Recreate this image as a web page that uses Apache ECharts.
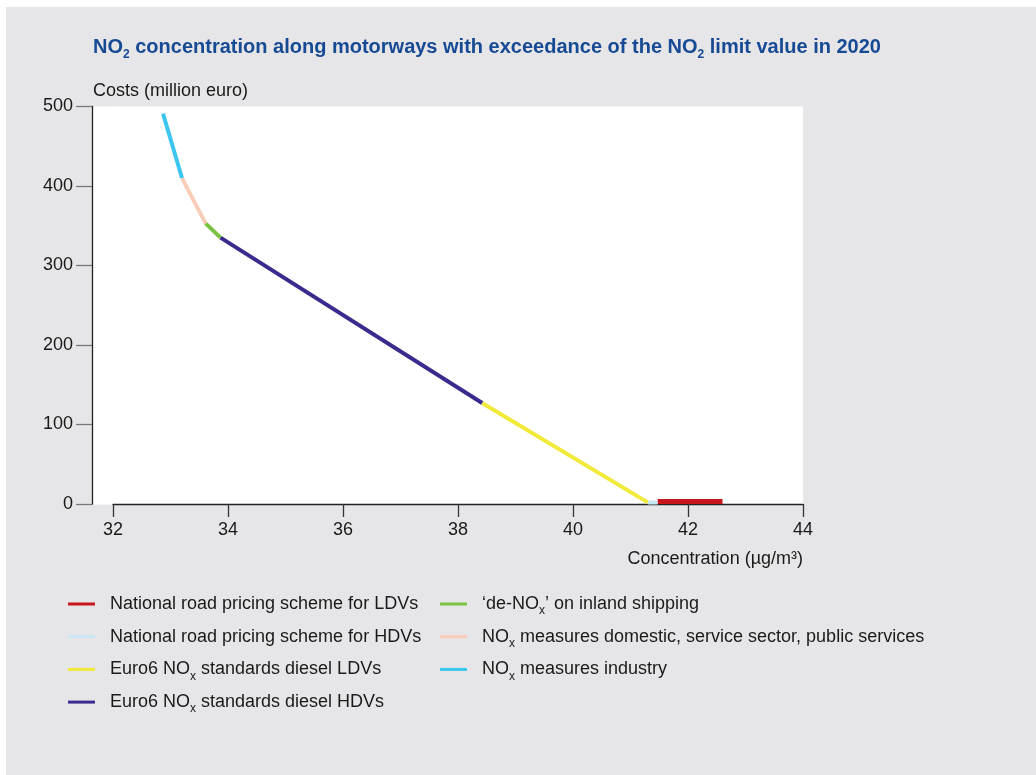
<!DOCTYPE html>
<html>
<head>
<meta charset="utf-8">
<script src="https://cdn.jsdelivr.net/npm/echarts@6/dist/echarts.min.js"></script>
<style>
html,body{margin:0;padding:0;background:#ffffff;width:1036px;height:775px;overflow:hidden;}
#bg{position:absolute;left:6px;top:7px;right:0;bottom:0;background:#e6e6e8;}
#chart{position:absolute;left:0;top:0;width:1036px;height:775px;}
</style>
</head>
<body>
<div id="bg"></div>
<div id="chart"></div>
<script>
// ---- data ----
const seriesNames = [
  'National road pricing scheme for LDVs',
  'National road pricing scheme for HDVs',
  'Euro6 NOx standards diesel LDVs',
  'Euro6 NOx standards diesel HDVs',
  '\u2018de-NOx\u2019 on inland shipping',
  'NOx measures domestic, service sector, public services',
  'NOx measures industry'
];
const seriesColors = ['#c8161e', '#c9e6f4', '#f2ea3a', '#3b2a8e', '#7cc242', '#f9cdb9', '#3cc6ef'];
// concentration (µg/m3) at start and end of each measure segment
const segConc = [
  [41.47, 42.60],
  [41.30, 41.47],
  [38.42, 41.30],
  [33.87, 38.42],
  [33.61, 33.87],
  [33.20, 33.61],
  [32.87, 33.20]
];
// cumulative costs (million euro) at start and end of each segment
const segCost = [
  [3, 3],
  [2, 2],
  [127, 2],
  [335, 127],
  [353, 335],
  [410, 353],
  [491, 410]
];
const xTicks = [32, 34, 36, 38, 40, 42, 44];
const yTicks = [0, 100, 200, 300, 400, 500];

const FONT = '"Liberation Sans", Arial, sans-serif';
const TXT = '#1a1a1a';
const subStyle = {fontSize: 12, lineHeight: 12, verticalAlign: 'bottom', fontFamily: FONT, color: TXT};

function fmtSub(s) { return s.replace(/NOx/g, 'NO{sub|x}'); }

const series = seriesNames.map((name, i) => ({
  name: name,
  type: 'line',
  showSymbol: false,
  symbol: 'none',
  animation: false,
  color: seriesColors[i],
  lineStyle: {color: seriesColors[i], width: i === 0 ? 5 : 4, cap: 'butt'},
  data: segConc[i].map((c, k) => [c, segCost[i][k]]),
  z: 3
}));

const legendBase = {
  orient: 'vertical',
  icon: 'rect',
  itemWidth: 27,
  itemHeight: 3,
  itemGap: 6.7,
  padding: 0,
  selectedMode: false,
  formatter: fmtSub,
  textStyle: {
    fontFamily: FONT, fontSize: 18, color: TXT, lineHeight: 26,
    padding: [0, 0, 0, 10],
    rich: {sub: subStyle}
  }
};

const chart = echarts.init(document.getElementById('chart'), null, {renderer: 'canvas'});
chart.setOption({
  backgroundColor: 'transparent',
  animation: false,
  title: [
    {
      text: 'NO{sub|2} concentration along motorways with exceedance of the NO{sub|2} limit value in 2020',
      left: 93, top: 33, padding: 0,
      textStyle: {
        fontFamily: FONT, fontSize: 20, fontWeight: 'bold', color: '#174a94', lineHeight: 28,
        rich: {sub: {fontSize: 12, lineHeight: 12, verticalAlign: 'bottom', fontWeight: 'bold', color: '#174a94', fontFamily: FONT}}
      }
    },
    {
      text: 'Costs (million euro)',
      left: 93, top: 82, padding: 0,
      textStyle: {fontFamily: FONT, fontSize: 18, fontWeight: 'normal', color: TXT}
    },
    {
      text: 'Concentration (\u00b5g/m\u00b3)',
      right: 233, top: 550, padding: 0,
      textStyle: {fontFamily: FONT, fontSize: 18, fontWeight: 'normal', color: TXT}
    }
  ],
  legend: [
    Object.assign({}, legendBase, {left: 68, top: 591, data: seriesNames.slice(0, 4)}),
    Object.assign({}, legendBase, {left: 440, top: 591, data: seriesNames.slice(4)})
  ],
  graphic: [
    {type: 'rect', left: 93, top: 106.5, shape: {width: 21, height: 398}, style: {fill: '#ffffff'}, z: 0, silent: true}
  ],
  grid: {
    left: 113, right: 233, top: 106.5, bottom: 271,
    show: true, backgroundColor: '#ffffff', borderWidth: 0
  },
  xAxis: {
    type: 'value',
    min: xTicks[0], max: xTicks[xTicks.length - 1], interval: 2,
    axisLine: {show: true, lineStyle: {color: '#222', width: 1.3}},
    axisTick: {show: true, inside: false, length: 13, lineStyle: {color: '#333', width: 1.3}},
    axisLabel: {margin: 17, fontFamily: FONT, fontSize: 18, color: TXT},
    splitLine: {show: false}
  },
  yAxis: {
    type: 'value',
    min: yTicks[0], max: yTicks[yTicks.length - 1], interval: 100,
    offset: 21,
    axisLine: {show: true, lineStyle: {color: '#222', width: 1.3}},
    axisTick: {show: true, inside: false, length: 16, lineStyle: {color: '#777', width: 1.3}},
    axisLabel: {margin: 19, fontFamily: FONT, fontSize: 18, color: TXT},
    splitLine: {show: false}
  },
  series: series
});
</script>
</body>
</html>
